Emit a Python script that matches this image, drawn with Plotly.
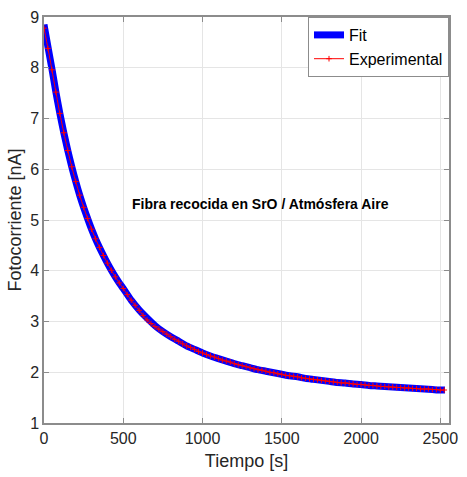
import plotly.graph_objects as go

# Fit curve (time in s, photocurrent in nA)
fit_t = [0, 25, 50, 75, 100, 125, 150, 175, 200, 225, 250, 275, 300, 325, 350, 375, 400, 425, 450, 475, 500,
         550, 600, 650, 700, 750, 800, 850, 900, 950, 1000, 1050, 1100, 1150, 1200, 1250, 1300, 1350, 1400, 1450,
         1500, 1550, 1600, 1650, 1700, 1750, 1800, 1850, 1900, 1950, 2000, 2050, 2100, 2150, 2200, 2250, 2300,
         2350, 2400, 2450, 2500, 2530]
fit_v = [8.85, 8.41, 7.98, 7.52, 7.10, 6.72, 6.37, 6.05, 5.76, 5.49, 5.25, 5.03, 4.82, 4.63, 4.46, 4.30, 4.15, 4.01, 3.88, 3.76, 3.65,
         3.42, 3.23, 3.07, 2.92, 2.80, 2.70, 2.61, 2.52, 2.45, 2.38, 2.32, 2.27, 2.22, 2.17, 2.13, 2.09, 2.05, 2.02, 1.99,
         1.96, 1.93, 1.91, 1.88, 1.86, 1.84, 1.82, 1.80, 1.79, 1.77, 1.76, 1.74, 1.73, 1.72, 1.71, 1.70, 1.69,
         1.68, 1.67, 1.66, 1.65, 1.65]

# Experimental samples, every 25 s starting at 0 s
exp_t0 = 0
exp_dt = 25
exp_v = [8.78, 8.38, 7.96, 7.52, 7.10, 6.72, 6.37, 6.05, 5.76, 5.49, 5.25, 5.03, 4.82, 4.63, 4.46, 4.30, 4.15, 4.01,
         3.88, 3.76, 3.65, 3.53, 3.42, 3.32, 3.22, 3.12, 3.03, 2.96, 2.90, 2.85, 2.80, 2.75, 2.70, 2.65, 2.61, 2.56,
         2.52, 2.49, 2.45, 2.41, 2.38, 2.35, 2.32, 2.30, 2.27, 2.24, 2.22, 2.20, 2.17, 2.15, 2.13, 2.11, 2.09, 2.07,
         2.05, 2.04, 2.02, 2.00, 1.99, 1.97, 1.96, 1.94, 1.93, 1.92, 1.91, 1.89, 1.88, 1.87, 1.86, 1.85, 1.84, 1.83,
         1.82, 1.81, 1.80, 1.79, 1.79, 1.78, 1.77, 1.76, 1.76, 1.75, 1.74, 1.74, 1.73, 1.72, 1.72, 1.71, 1.71, 1.70,
         1.70, 1.69, 1.69, 1.68, 1.68, 1.67, 1.67, 1.67, 1.66, 1.66, 1.65, 1.65]

x_ticks = [0, 500, 1000, 1500, 2000, 2500]
y_ticks = [1, 2, 3, 4, 5, 6, 7, 8, 9]

FONT = "Liberation Sans, Arial, sans-serif"
AX = "#262626"
GRID = "#e5e5e5"

fig = go.Figure()
fig.add_trace(go.Scatter(x=fit_t, y=fit_v, mode="lines", name="Fit",
                         line=dict(color="#0000ff", width=7, shape="spline", smoothing=0.6)))
fig.add_trace(go.Scatter(y=exp_v, x0=exp_t0, dx=exp_dt, mode="lines+markers", name="Experimental",
                         line=dict(color="#ff0000", width=1, shape="spline", smoothing=0.6),
                         marker=dict(symbol="cross-thin", size=4, color="#ff0000",
                                     line=dict(color="#ff0000", width=1))))

fig.add_annotation(x=1367, y=5.32, xref="x", yref="y",
                   text="<b>Fibra recocida en SrO / Atmósfera Aire</b>",
                   showarrow=False, font=dict(family=FONT, size=14, color="#000000"))

fig.update_layout(
    width=467, height=477,
    margin=dict(l=44, r=9, t=10, b=54),
    paper_bgcolor="white", plot_bgcolor="white",
    font=dict(family=FONT, size=16, color=AX),
    showlegend=True,
    legend=dict(x=1.0, y=1.0, xanchor="right", yanchor="top",
                bgcolor="white", bordercolor="#8c8c8c", borderwidth=1,
                font=dict(family=FONT, size=16, color="#000000"),
                tracegroupgap=0, itemwidth=30),
)
fig.update_xaxes(range=[0, 2555], tickvals=x_ticks, ticktext=[str(v) for v in x_ticks],
                 showgrid=True, gridcolor=GRID, gridwidth=1, zeroline=False,
                 showline=True, linecolor="#8c8c8c", linewidth=1.5, mirror="ticks",
                 ticks="inside", ticklen=5, tickcolor="#8c8c8c",
                 tickfont=dict(size=16, color=AX),
                 title=dict(text="Tiempo [s]", font=dict(size=18, color=AX), standoff=8))
fig.update_yaxes(range=[1, 9], tickvals=y_ticks, ticktext=[str(v) for v in y_ticks],
                 showgrid=True, gridcolor=GRID, gridwidth=1, zeroline=False,
                 showline=True, linecolor="#8c8c8c", linewidth=1.5, mirror="ticks",
                 ticks="inside", ticklen=5, tickcolor="#8c8c8c",
                 tickfont=dict(size=16, color=AX),
                 title=dict(text="Fotocorriente [nA]", font=dict(size=18, color=AX), standoff=4))

fig.write_html("out.html")
